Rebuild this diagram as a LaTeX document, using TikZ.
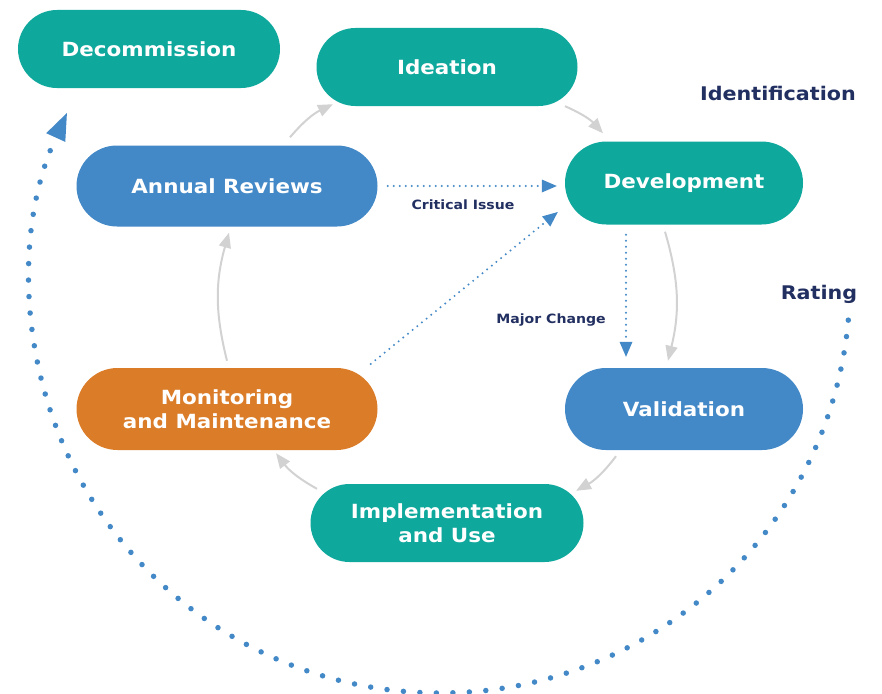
\documentclass[tikz,border=0pt]{standalone}
\usepackage{fontspec}
\setmainfont{DejaVu Sans}[FakeStretch=1.1]
\usetikzlibrary{shapes.misc,arrows.meta,calc}
\definecolor{tealc}{RGB}{15,168,157}
\definecolor{bluec}{RGB}{68,137,199}
\definecolor{orangec}{RGB}{219,124,40}
\definecolor{navyc}{RGB}{34,47,97}
\definecolor{grayc}{RGB}{210,210,210}
\begin{document}
\begin{tikzpicture}[x=1pt,y=-1pt,
  pill/.style={rounded rectangle, draw=none, text=white, inner sep=0pt,
    font=\fontsize{19.5}{23.5}\selectfont\bfseries, align=center},
  lbl/.style={text=navyc, inner sep=0pt, font=\fontsize{18.8}{22}\selectfont\bfseries},
  smalllbl/.style={text=navyc, inner sep=0pt, font=\fontsize{12.8}{15}\selectfont\bfseries},
  grayarr/.style={draw=grayc, line width=2pt, -{Triangle[length=15pt,width=12pt]}},
  bluedot/.style={draw=bluec, line width=2.2pt, line cap=round, dash pattern=on 0pt off 6pt,
    -{Triangle[length=15pt,width=13pt,line width=0pt]}},
  bigdot/.style={draw=bluec, line width=5.5pt, line cap=round, dash pattern=on 0pt off 16.5pt,
    -{Triangle[length=27pt,width=21pt,line width=0pt]}}
]
\useasboundingbox (0,0) rectangle (882,693);

\node[pill, fill=tealc, minimum width=262pt, minimum height=78pt] (dec) at (149,49) {Decommission};
\node[pill, fill=tealc, minimum width=261pt, minimum height=78pt] (idea) at (447,67) {Ideation};
\node[pill, fill=bluec, minimum width=301pt, minimum height=81pt] (ar) at (227,186) {Annual Reviews};
\node[pill, fill=tealc, minimum width=238pt, minimum height=83pt] (dev) at (684,183) {\raisebox{-2pt}{Development}};
\node[pill, fill=bluec, minimum width=238pt, minimum height=82pt] (val) at (684,409) {Validation};
\node[pill, fill=orangec, minimum width=301pt, minimum height=82pt] (mon) at (227,409) {Monitoring\\and Maintenance};
\node[pill, fill=tealc, minimum width=273pt, minimum height=78pt] (imp) at (447,523) {Implementation\\and Use};

\node[lbl] (ident) at (778,93) {Identification};
\node[lbl] (rating) at (819,294) {Rating};
\node[smalllbl] (crit) at (463,205) {Critical Issue};
\node[smalllbl] (major) at (551,320) {Major Change};

% gray cycle arrows
\draw[grayarr] ($(ar.north)+(63,-8)$) to[bend left=12] ($(idea.south)+(-114,-2)$);
\draw[grayarr] ($(idea.south)+(118,0)$) to[bend left=12] ($(dev.north)+(-81,-8)$);
\draw[grayarr] ($(dev.south)+(-19,7)$) to[bend left=15] ($(val.north)+(-16,-7)$);
\draw[grayarr] ($(val.south)+(-68,6)$) to[bend left=12] ($(imp.north)+(129,7)$);
\draw[grayarr] ($(imp.north)+(-130,5)$) to[bend left=12] ($(mon.south)+(49,3)$);
\draw[grayarr] ($(mon.north)+(0,-7)$) to[bend left=15] ($(ar.south)+(2,6)$);

% blue dotted arrows
\draw[bluedot] ($(ar.east)+(10,0)$) -- ($(dev.west)+(-8,3)$);
\draw[bluedot] ($(mon.east)+(-7,-45)$) -- ($(dev.west)+(-7,29)$);
\draw[bluedot] ($(dev.south)+(-58,10)$) -- ($(val.north)+(-58,-11)$);

% big dotted arc
\coordinate (c) at (440,283);
\coordinate (arcstart) at ($(c)+(5.2:410)$);
\draw[bigdot] (arcstart) arc[start angle=5.2, end angle=204.5, radius=410];
\end{tikzpicture}
\end{document}
